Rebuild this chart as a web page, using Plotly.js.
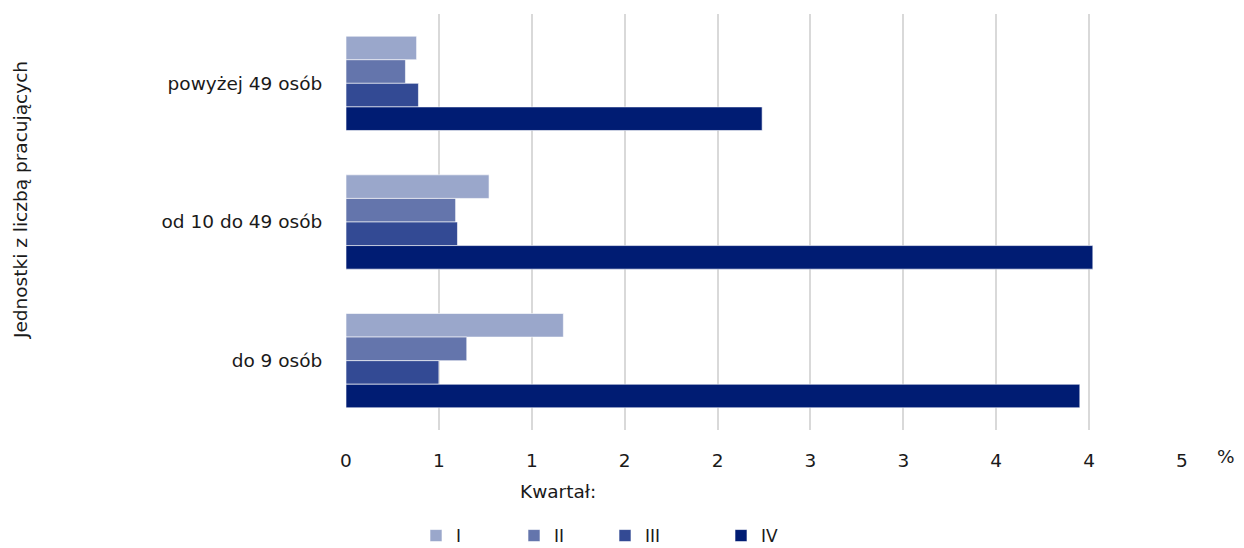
<!DOCTYPE html>
<html><head><meta charset="utf-8">
<script src="https://cdn.plot.ly/plotly-3.0.1.min.js"></script>
<style>html,body{margin:0;padding:0;background:#fff}#chart{width:1244px;height:548px}</style>
</head><body><div id="chart"></div>
<script>
const categories = ["powyżej 49 osób", "od 10 do 49 osób", "do 9 osób"];
const seriesNames = ["I", "II", "III", "IV"];
const q1 = [0.38, 0.77, 1.17];
const q2 = [0.32, 0.59, 0.65];
const q3 = [0.39, 0.60, 0.50];
const q4 = [2.24, 4.02, 3.95];
const tickVals = [0, 0.5, 1, 1.5, 2, 2.5, 3, 3.5, 4, 4.5];
const tickText = ["0", "1", "1", "2", "2", "3", "3", "4", "4", "5"];
const colors = ["#9AA7CB", "#6475AC", "#334A94", "#001C73"];

const font = {family: "DejaVu Sans", size: 18.5, color: "#1a1a1a"};
const legendFont = {family: "DejaVu Sans", size: 17, color: "#1a1a1a"};
const L = 346, R = 1182, T = 14, B = 430;
const px = x => (x - L) / (R - L);
const py = y => (B - y) / (B - T);

const legendIds = ["legend", "legend2", "legend3", "legend4"];
const legendX = [416, 514, 605, 721];

const values = [q1, q2, q3, q4];
const traces = values.map((v, i) => ({
  type: "bar", orientation: "h", name: seriesNames[i],
  y: categories, x: v, legend: legendIds[i],
  marker: {color: colors[i], line: {color: "#ffffff", width: 0.6}},
  hoverinfo: "x+y"
}));

const layout = {
  width: 1244, height: 548,
  margin: {l: L, r: 1244 - R, t: T, b: 548 - B, autoexpand: false},
  barmode: "group", bargap: 0.32, bargroupgap: 0,
  font: font,
  paper_bgcolor: "#fff", plot_bgcolor: "#fff",
  showlegend: true,
  xaxis: {range: [0, 4.5], tickvals: tickVals, ticktext: tickText,
          showgrid: true, gridcolor: "#d9d9d9", gridwidth: 2, zeroline: false,
          showline: false, ticks: "outside", ticklen: 14, tickcolor: "rgba(0,0,0,0)",
          tickfont: font, automargin: false},
  yaxis: {type: "category", autorange: "reversed", showgrid: false, zeroline: false,
          showline: false, ticks: "outside", ticklen: 19, tickcolor: "rgba(0,0,0,0)", tickfont: font,
          automargin: false},
  annotations: [
    {text: "Jednostki z liczbą pracujących", xref: "paper", yref: "paper", x: px(20), y: py(200),
     xanchor: "center", yanchor: "middle", textangle: -90, showarrow: false, font: font},
    {text: "Kwartał:", xref: "paper", yref: "paper", x: px(558), y: py(492),
     xanchor: "center", yanchor: "middle", showarrow: false, font: font},
    {text: "%", xref: "paper", yref: "paper", x: px(1226), y: py(456),
     xanchor: "center", yanchor: "middle", showarrow: false, font: font}
  ]
};
legendIds.forEach((id, i) => {
  layout[id] = {orientation: "h", x: px(legendX[i]), xanchor: "left", y: py(536), yanchor: "middle",
                itemwidth: 30, font: legendFont, bgcolor: "rgba(0,0,0,0)"};
});
Plotly.newPlot("chart", traces, layout, {displayModeBar: false, staticPlot: true});
</script></body></html>
